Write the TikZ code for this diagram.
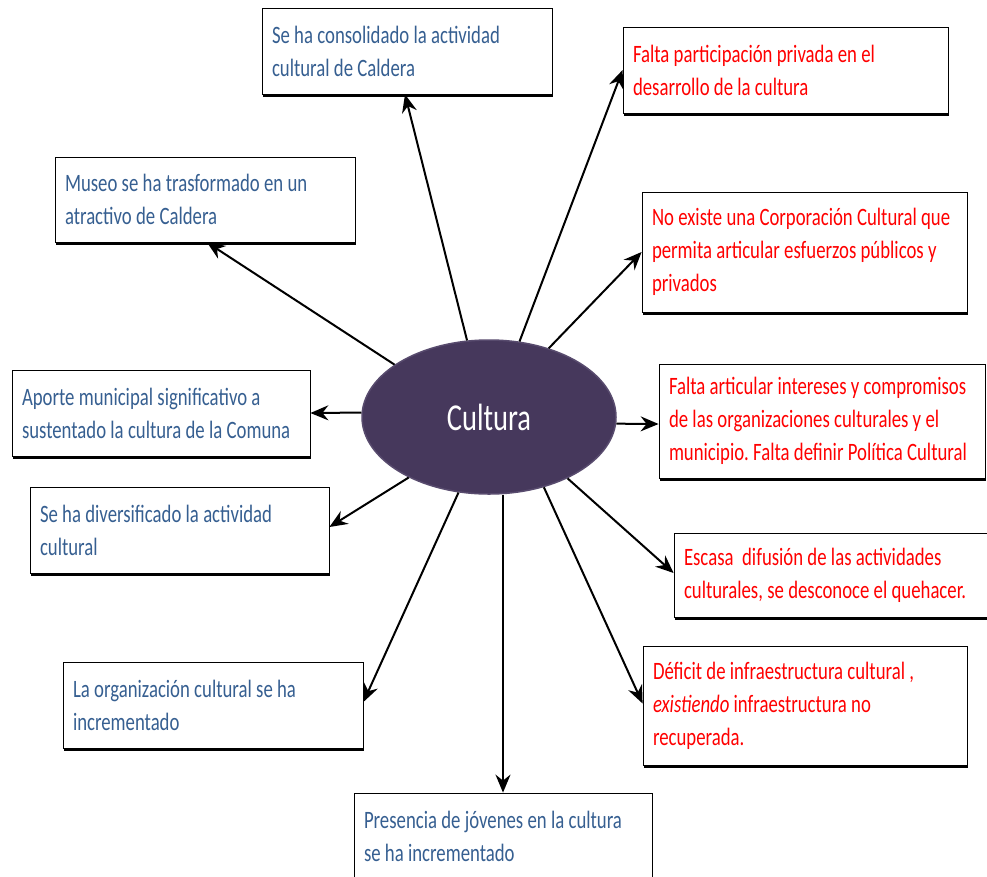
\documentclass[tikz,border=0pt]{standalone}
\usepackage{fontspec}
\setmainfont{Carlito}[FakeStretch=0.75]
\usetikzlibrary{arrows.meta,shapes.geometric,shadows}
\definecolor{txtblue}{RGB}{54,95,145}
\definecolor{txtred}{RGB}{255,0,0}
\definecolor{ovalfill}{RGB}{70,56,92}
\definecolor{ovaledge}{RGB}{88,75,110}
\newcommand\myboxspacing{\frenchspacing\spaceskip=4.3pt\relax\hyphenpenalty=10000\relax}
\begin{document}
\begin{tikzpicture}[x=1pt,y=-1pt,
  box/.style={rectangle,draw=black,line width=0.8pt,fill=white,inner xsep=10pt,inner ysep=0pt,
    align=flush left,font=\fontsize{25}{33}\selectfont,execute at begin node=\myboxspacing,
    drop shadow={shadow xshift=1pt,shadow yshift=-2.5pt,opacity=1,fill=black}},
  bluebox/.style={box,text=txtblue},
  redbox/.style={box,text=txtred},
  conn/.style={line width=2pt,draw=black,-{Stealth[length=18pt,width=15pt,inset=6pt]}}]
\clip (0,0) rectangle (987,876);
\fill[white] (0,0) rectangle (987,876);

% centre
\node[ellipse,minimum width=254pt,minimum height=154pt,inner sep=0pt,fill=ovalfill,draw=ovaledge,line width=1.5pt,
  text=white,font=\fontsize{38}{40}\selectfont] (c) at (489,417) {Cultura};

% left / blue boxes
\node[bluebox,text width=270pt,minimum height=86pt] (b1) at (407,51) {Se ha consolidado la actividad\\cultural de Caldera};
\node[bluebox,text width=280pt,minimum height=85pt] (b2) at (205,199.5) {Museo se ha trasformado en un\\atractivo de Caldera};
\node[bluebox,text width=278pt,minimum height=86pt] (b3) at (161,413) {Aporte municipal significativo a\\sustentado la cultura de la Comuna};
\node[bluebox,text width=279pt,minimum height=86pt] (b4) at (179.5,530) {Se ha diversificado la actividad\\cultural};
\node[bluebox,text width=280pt,minimum height=86pt] (b5) at (213,705) {La organización cultural se ha\\incrementado};
\node[bluebox,text width=278pt,minimum height=86pt] (b6) at (503,836) {Presencia de jóvenes en la cultura\\se ha incrementado};

% right / red boxes
\node[redbox,text width=305pt,minimum height=86pt] (r1) at (785.5,70) {Falta participación privada en el\\desarrollo de la cultura};
\node[redbox,text width=305pt,minimum height=120pt] (r2) at (804.5,252) {No existe una Corporación Cultural que\\permita articular esfuerzos públicos y\\privados};
\node[redbox,text width=306pt,minimum height=114pt] (r3) at (822,421) {Falta articular intereses y compromisos\\de las organizaciones culturales y el\\municipio. Falta definir Política Cultural};
\node[redbox,text width=298pt,minimum height=84pt] (r4) at (833,575) {Escasa\ \ difusión de las actividades\\culturales, se desconoce el quehacer.};
\node[redbox,text width=304pt,minimum height=119pt] (r5) at (805,705.5) {Déficit de infraestructura cultural ,\\\textit{existiendo} infraestructura no\\recuperada.};

% connectors
\draw[conn] (c.106) -- ([xshift=-2pt]b1.south);
\draw[conn] (c.151.6) -- ([xshift=2pt]b2.south);
\draw[conn] (c.178) -- (b3.east);
\draw[conn] (c.217) -- ([yshift=3pt]b4.east);
\draw[conn] (c.248) -- ([yshift=3pt]b5.east);
\draw[conn] (b6.north |- c.south) -- (b6.north);
\draw[conn] (c.308) -- ([yshift=2pt]r5.west);
\draw[conn] (c.322.8) -- ([yshift=2pt]r4.west);
\draw[conn] (c.357) -- ([yshift=-3pt]r3.west);
\draw[conn] (c.49) -- (r2.west);
\draw[conn] (c.68) -- (r1.west);
\end{tikzpicture}
\end{document}
